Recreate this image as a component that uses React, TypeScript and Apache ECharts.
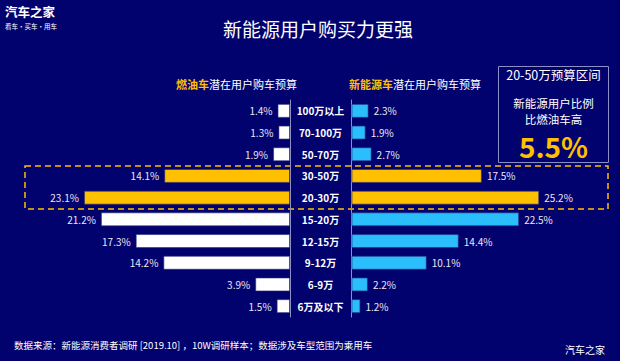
import React, { useEffect, useRef } from "react";
import * as echarts from "echarts";

const categories = ["100万以上", "70-100万", "50-70万", "30-50万", "20-30万", "15-20万", "12-15万", "9-12万", "6-9万", "6万及以下"];
const iceValues = [1.4, 1.3, 1.9, 14.1, 23.1, 21.2, 17.3, 14.2, 3.9, 1.5];
const nevValues = [2.3, 1.9, 2.7, 17.5, 25.2, 22.5, 14.4, 10.1, 2.2, 1.2];
const highlightCats = ["30-50万", "20-30万"];
const titleText = "新能源用户购买力更强";
const leftHeadKey = "燃油车";
const rightHeadKey = "新能源车";
const headRest = "潜在用户购车预算";
const boxLines = ["20-50万预算区间", "新能源用户比例", "比燃油车高"];
const boxValue = "5.5%";
const footerText = "数据来源：新能源消费者调研 [2019.10] ，10W调研样本；数据涉及车型范围为乘用车";
const brand = "汽车之家";
const brandSub = "看车·买车·用车";

const FONT = '"Noto Sans CJK SC", "Noto Sans", sans-serif';
const BG = "#02026E";
const YELLOW = "#FFC000";
const CYAN = "#2ABEFD";
const AXIS = "#8C90C8";

function txt(text: string, x: number, y: number, size: number, opts: any = {}) {
  return {
    type: "text",
    x,
    y,
    silent: true,
    style: {
      text,
      fill: opts.fill || "#FFFFFF",
      fontSize: size,
      fontFamily: FONT,
      fontWeight: opts.weight || "normal",
      lineHeight: opts.lineHeight || size,
      align: opts.align || "center",
      verticalAlign: "middle",
      textAlign: opts.align || "center",
      textVerticalAlign: "middle",
    },
  };
}

export default function App() {
  const ref = useRef<HTMLDivElement>(null);
  useEffect(() => {
    if (!ref.current) return;
    const chart = echarts.init(ref.current, undefined, { renderer: "svg" });
    const colorFor = (base: string) => (p: any) => (highlightCats.includes(p.name) ? YELLOW : base);
    chart.setOption({
      animation: false,
      backgroundColor: BG,
      textStyle: { fontFamily: FONT },
      grid: [
        { left: 22.4, right: 330, top: 100, bottom: 44 },
        { left: 351.5, right: 45, top: 100, bottom: 44 },
      ],
      xAxis: [
        { type: "value", gridIndex: 0, min: 0, max: 30, inverse: true, show: false },
        { type: "value", gridIndex: 1, min: 0, max: 30, show: false },
      ],
      yAxis: [
        {
          type: "category",
          gridIndex: 0,
          data: categories,
          inverse: true,
          position: "right",
          axisLine: { show: true, lineStyle: { color: AXIS, width: 1 } },
          axisTick: { show: false },
          axisLabel: {
            align: "center",
            margin: 30.5,
            color: "#FFFFFF",
            fontSize: 10,
            fontWeight: "bold",
            fontFamily: FONT,
          },
        },
        {
          type: "category",
          gridIndex: 1,
          data: categories,
          inverse: true,
          position: "left",
          axisLine: { show: true, lineStyle: { color: AXIS, width: 1 } },
          axisTick: { show: false },
          axisLabel: { show: false },
        },
      ],
      series: [
        {
          type: "bar",
          xAxisIndex: 0,
          yAxisIndex: 0,
          data: iceValues,
          barWidth: 14,
          itemStyle: { color: colorFor("#FFFFFF"), borderColor: "rgba(40,40,120,0.6)", borderWidth: 1 },
          label: {
            show: true,
            position: "left",
            distance: 5,
            formatter: "{c}%",
            color: "#E8E8F4",
            fontSize: 10,
            fontFamily: FONT,
          },
        },
        {
          type: "bar",
          xAxisIndex: 1,
          yAxisIndex: 1,
          data: nevValues,
          barWidth: 14,
          itemStyle: { color: colorFor(CYAN), borderColor: "rgba(40,40,120,0.6)", borderWidth: 1 },
          label: {
            show: true,
            position: "right",
            distance: 5,
            formatter: "{c}%",
            color: "#E8E8F4",
            fontSize: 10,
            fontFamily: FONT,
          },
        },
      ],
      graphic: [
        txt(brand, 5, 11.5, 12.5, { align: "left", weight: "bold" }),
        txt(brandSub, 5, 25.5, 6.5, { align: "left" }),
        txt(titleText, 318, 28, 19),
        {
          type: "text",
          x: 176,
          y: 84,
          silent: true,
          style: {
            text: `{k|${leftHeadKey}}{w|${headRest}}`,
            align: "left",
            verticalAlign: "middle",
            textAlign: "left",
            textVerticalAlign: "middle",
            rich: {
              k: { fill: YELLOW, fontSize: 11, fontWeight: "bold", fontFamily: FONT },
              w: { fill: "#FFFFFF", fontSize: 11, fontFamily: FONT },
            },
          },
        },
        {
          type: "text",
          x: 349,
          y: 84,
          silent: true,
          style: {
            text: `{k|${rightHeadKey}}{w|${headRest}}`,
            align: "left",
            verticalAlign: "middle",
            textAlign: "left",
            textVerticalAlign: "middle",
            rich: {
              k: { fill: YELLOW, fontSize: 11, fontWeight: "bold", fontFamily: FONT },
              w: { fill: "#FFFFFF", fontSize: 11, fontFamily: FONT },
            },
          },
        },
        {
          type: "rect",
          silent: true,
          shape: { x: 498.5, y: 66.5, width: 110, height: 96 },
          style: { fill: "transparent", stroke: AXIS, lineWidth: 1 },
        },
        txt(boxLines[0], 553.5, 74, 12.5),
        txt(boxLines[1], 553.5, 102.5, 11.5),
        txt(boxLines[2], 553.5, 118.5, 11.5),
        txt(boxValue, 553.5, 146, 28, { fill: YELLOW, weight: "bold" }),
        {
          type: "rect",
          silent: true,
          shape: { x: 25, y: 166, width: 583, height: 43 },
          style: { fill: "transparent", stroke: YELLOW, lineWidth: 1.5, lineDash: [6, 4] },
        },
        txt(footerText, 14, 345, 9.5, { align: "left" }),
        txt(brand, 605, 349, 10, { align: "right" }),
      ],
    });
    return () => chart.dispose();
  }, []);
  return <div ref={ref} style={{ position: "fixed", left: 0, top: 0, width: 620, height: 361 }} />;
}
